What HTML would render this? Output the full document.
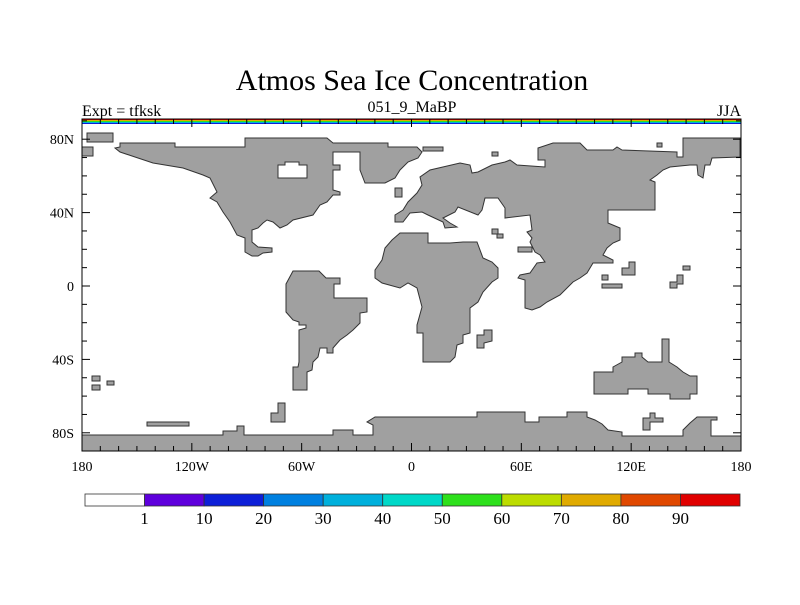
<!DOCTYPE html>
<html><head><meta charset="utf-8"><style>
body{margin:0;background:#fff;}
svg text{font-family:"Liberation Serif",serif;fill:#000;}
</style></head><body>
<svg id="chart" width="800" height="600" xmlns="http://www.w3.org/2000/svg">
<rect width="800" height="600" fill="#fff"/>
<text x="412" y="90" font-size="30" text-anchor="middle">Atmos Sea Ice Concentration</text>
<text x="82" y="116" font-size="16">Expt = tfksk</text>
<text x="412" y="112" font-size="16" text-anchor="middle">051_9_MaBP</text>
<text x="741" y="116" font-size="16" text-anchor="end">JJA</text>
<g fill="#a0a0a0" stroke="#333" stroke-width="1">
<path fill-rule="evenodd" d="M120,143 L175,143 L175,147 L245,147 L245,138 L327,138 L333,143 L388,143 L388,147 L417,147 L422,152 L418,158 L408,162 L400,170 L395,178 L385,183 L365,183 L360,170 L360,152 L333,152 L333,165 L340,165 L340,170 L333,170 L333,190 L340,192 L340,195 L333,195 L327,202 L320,205 L313,215 L293,220 L287,225 L280,228 L273,222 L267,220 L263,223 L258,228 L252,230 L252,242 L258,247 L272,248 L272,252 L263,253 L258,256 L252,256 L245,252 L245,238 L237,235 L230,222 L223,212 L217,202 L210,198 L217,192 L210,178 L203,175 L183,168 L153,163 L135,157 L120,152 L115,148 L120,147 Z M278,165 L285,165 L285,162 L299,162 L299,165 L307,165 L307,178 L278,178 Z"/>
<path d="M460,163 L470,165 L472,173 L478,172 L492,165 L505,162 L510,160 L517,165 L545,167 L545,160 L538,160 L538,148 L553,143 L580,143 L587,150 L613,150 L617,147 L622,150 L677,152 L677,157 L683,157 L683,138 L740,138 L740,157 L712,158 L710,165 L705,165 L703,178 L698,175 L697,165 L690,165 L670,167 L663,170 L657,175 L650,180 L655,182 L655,210 L608,210 L608,223 L620,228 L620,240 L613,243 L607,248 L603,255 L613,260 L613,263 L593,263 L587,273 L580,278 L573,282 L567,288 L560,295 L547,302 L540,307 L532,310 L525,308 L525,280 L518,278 L520,275 L530,273 L537,263 L545,262 L540,255 L535,252 L530,242 L532,238 L527,232 L532,230 L530,215 L505,218 L505,208 L498,198 L485,198 L482,210 L478,215 L458,207 L455,212 L443,218 L450,223 L457,227 L445,228 L443,222 L428,215 L422,212 L410,213 L403,222 L395,222 L395,215 L403,210 L408,202 L417,193 L422,185 L420,177 L430,170 Z"/>
<rect x="518" y="247" width="14" height="5"/>
<path d="M400,233 L428,233 L428,243 L450,243 L463,242 L477,242 L483,258 L492,262 L498,268 L498,278 L492,282 L483,292 L478,302 L470,308 L470,333 L463,335 L463,343 L457,345 L455,357 L450,362 L423,362 L423,333 L417,333 L417,325 L422,307 L417,288 L408,283 L400,288 L382,283 L375,278 L375,270 L382,260 L385,248 L392,240 Z"/>
<path d="M484,330 L492,330 L492,341 L484,343 L484,348 L477,348 L477,335 L484,335 Z"/>
<path d="M286,284 L293,271 L319,271 L326,278 L340,278 L340,284 L334,284 L334,298 L367,298 L367,312 L360,313 L360,323 L353,330 L347,335 L340,340 L333,348 L333,353 L327,353 L327,348 L320,348 L318,357 L313,362 L312,370 L307,372 L307,390 L293,390 L293,367 L298,367 L299,362 L299,330 L306,328 L306,325 L299,325 L299,322 L293,320 L286,312 Z"/>
<path d="M594,372 L613,372 L613,367 L622,362 L622,357 L635,357 L635,353 L642,353 L642,357 L648,362 L662,362 L662,339 L669,339 L669,362 L677,367 L683,372 L690,376 L697,376 L697,394 L690,394 L690,399 L670,399 L670,394 L648,394 L648,389 L628,389 L628,394 L594,394 Z"/>
<path d="M82,435 L223,435 L223,431 L237,431 L237,426 L244,426 L244,435 L333,435 L333,430 L353,430 L353,435 L373,435 L373,425 L367,422 L375,417 L477,417 L477,412 L525,412 L525,422 L539,422 L539,417 L567,417 L567,412 L587,412 L587,417 L595,420 L602,424 L608,430 L622,432 L622,436 L683,436 L683,430 L690,423 L697,417 L717,417 L717,420 L711,420 L711,436 L741,436 L741,451 L82,451 Z"/>
<path d="M643,418 L650,418 L650,413 L655,413 L655,418 L663,418 L663,422 L650,422 L650,430 L643,430 Z"/>
<path d="M271,413 L278,413 L278,403 L285,403 L285,422 L271,422 Z"/>
<rect x="87" y="133" width="26" height="9"/>
<rect x="82" y="147" width="11" height="9"/>
<rect x="423" y="147" width="20" height="4"/>
<rect x="395" y="188" width="7" height="9"/>
<rect x="657" y="143" width="5" height="4"/>
<rect x="492" y="152" width="6" height="4"/>
<rect x="492" y="229" width="6" height="5"/>
<rect x="497" y="234" width="6" height="4"/>
<path d="M629,262 L635,262 L635,275 L622,275 L622,268 L629,268 Z"/>
<rect x="602" y="275" width="6" height="5"/>
<rect x="602" y="284" width="20" height="4"/>
<path d="M677,275 L683,275 L683,284 L677,284 L677,288 L670,288 L670,282 L677,282 Z"/>
<rect x="683" y="266" width="7" height="4"/>
<rect x="92" y="376" width="8" height="5"/>
<rect x="92" y="385" width="8" height="5"/>
<rect x="107" y="381" width="7" height="4"/>
<rect x="147" y="422" width="42" height="4"/>
</g>
<g>
<rect x="82" y="119" width="659" height="1" fill="#e00000"/>
<rect x="82" y="120" width="659" height="1" fill="#e0aa00"/>
<rect x="82" y="121" width="659" height="1" fill="#2ee01c"/>
<rect x="82" y="122" width="659" height="1" fill="#00b0dc"/>
<rect x="82" y="123" width="659" height="1" fill="#0d1fd8"/>
</g>
<rect x="82" y="119" width="659" height="332" fill="none" stroke="#000" stroke-width="1"/>
<g id="axes" stroke="#000" stroke-width="1"></g>
<g id="colorbar"></g>
</svg>
<script>
const latLabels = ["80N","40N","0","40S","80S"];
const latValues = [80,40,0,-40,-80];
const lonLabels = ["180","120W","60W","0","60E","120E","180"];
const lonValues = [-180,-120,-60,0,60,120,180];
const cbLabels = ["1","10","20","30","40","50","60","70","80","90"];
const cbColors = ["#ffffff","#5e00dc","#0d1fd8","#0080e0","#00b0dc","#00d8c8","#2ee01c","#bcdc00","#e0aa00","#e04800","#e00000"];
const NS="http://www.w3.org/2000/svg";
const X0=82,X1=741,Y0=119,Y1=451;
function xs(lon){return X0+(lon+180)/360*(X1-X0);}
function ys(lat){return 286-lat*1.835;}
const ax=document.getElementById('axes');
function line(x1,y1,x2,y2){const l=document.createElementNS(NS,'line');l.setAttribute('x1',x1);l.setAttribute('y1',y1);l.setAttribute('x2',x2);l.setAttribute('y2',y2);


ax.appendChild(l);}
for(let lat=-90;lat<=90;lat+=10){const y=ys(lat);if(y<Y0+1||y>Y1-1)continue;const L=(lat%40===0)?8:5;line(X0,y,X0+L,y);line(X1,y,X1-L,y);}
for(let lon=-180;lon<=180;lon+=10){const x=xs(lon);const L=(lon%60===0)?8:5;line(x,Y1,x,Y1-L);line(x,Y0,x,Y0+L);}
function txt(parent,x,y,s,anchor,size,name){const t=document.createElementNS(NS,'text');t.setAttribute('x',x);t.setAttribute('y',y);t.setAttribute('text-anchor',anchor);t.setAttribute('font-size',size);t.setAttribute('stroke','none');t.textContent=s;


parent.appendChild(t);}
latLabels.forEach((s,i)=>txt(ax,74,ys(latValues[i])+5,s,'end',14,'lat-label'));
lonLabels.forEach((s,i)=>txt(ax,xs(lonValues[i]),471,s,'middle',14,'lon-label'));
const cb=document.getElementById('colorbar');
const cx0=85,cx1=740,cy=494,ch=12,cw=(cx1-cx0)/cbColors.length;
cbColors.forEach((c,i)=>{const r=document.createElementNS(NS,'rect');r.setAttribute('x',cx0+i*cw);r.setAttribute('y',cy);r.setAttribute('width',cw);r.setAttribute('height',ch);r.setAttribute('fill',c);r.setAttribute('stroke','#333');r.setAttribute('stroke-width','0.8');


cb.appendChild(r);});
cbLabels.forEach((s,i)=>txt(cb,cx0+(i+1)*cw,524,s,'middle',17,'colorbar-label'));
</script>
</body></html>
